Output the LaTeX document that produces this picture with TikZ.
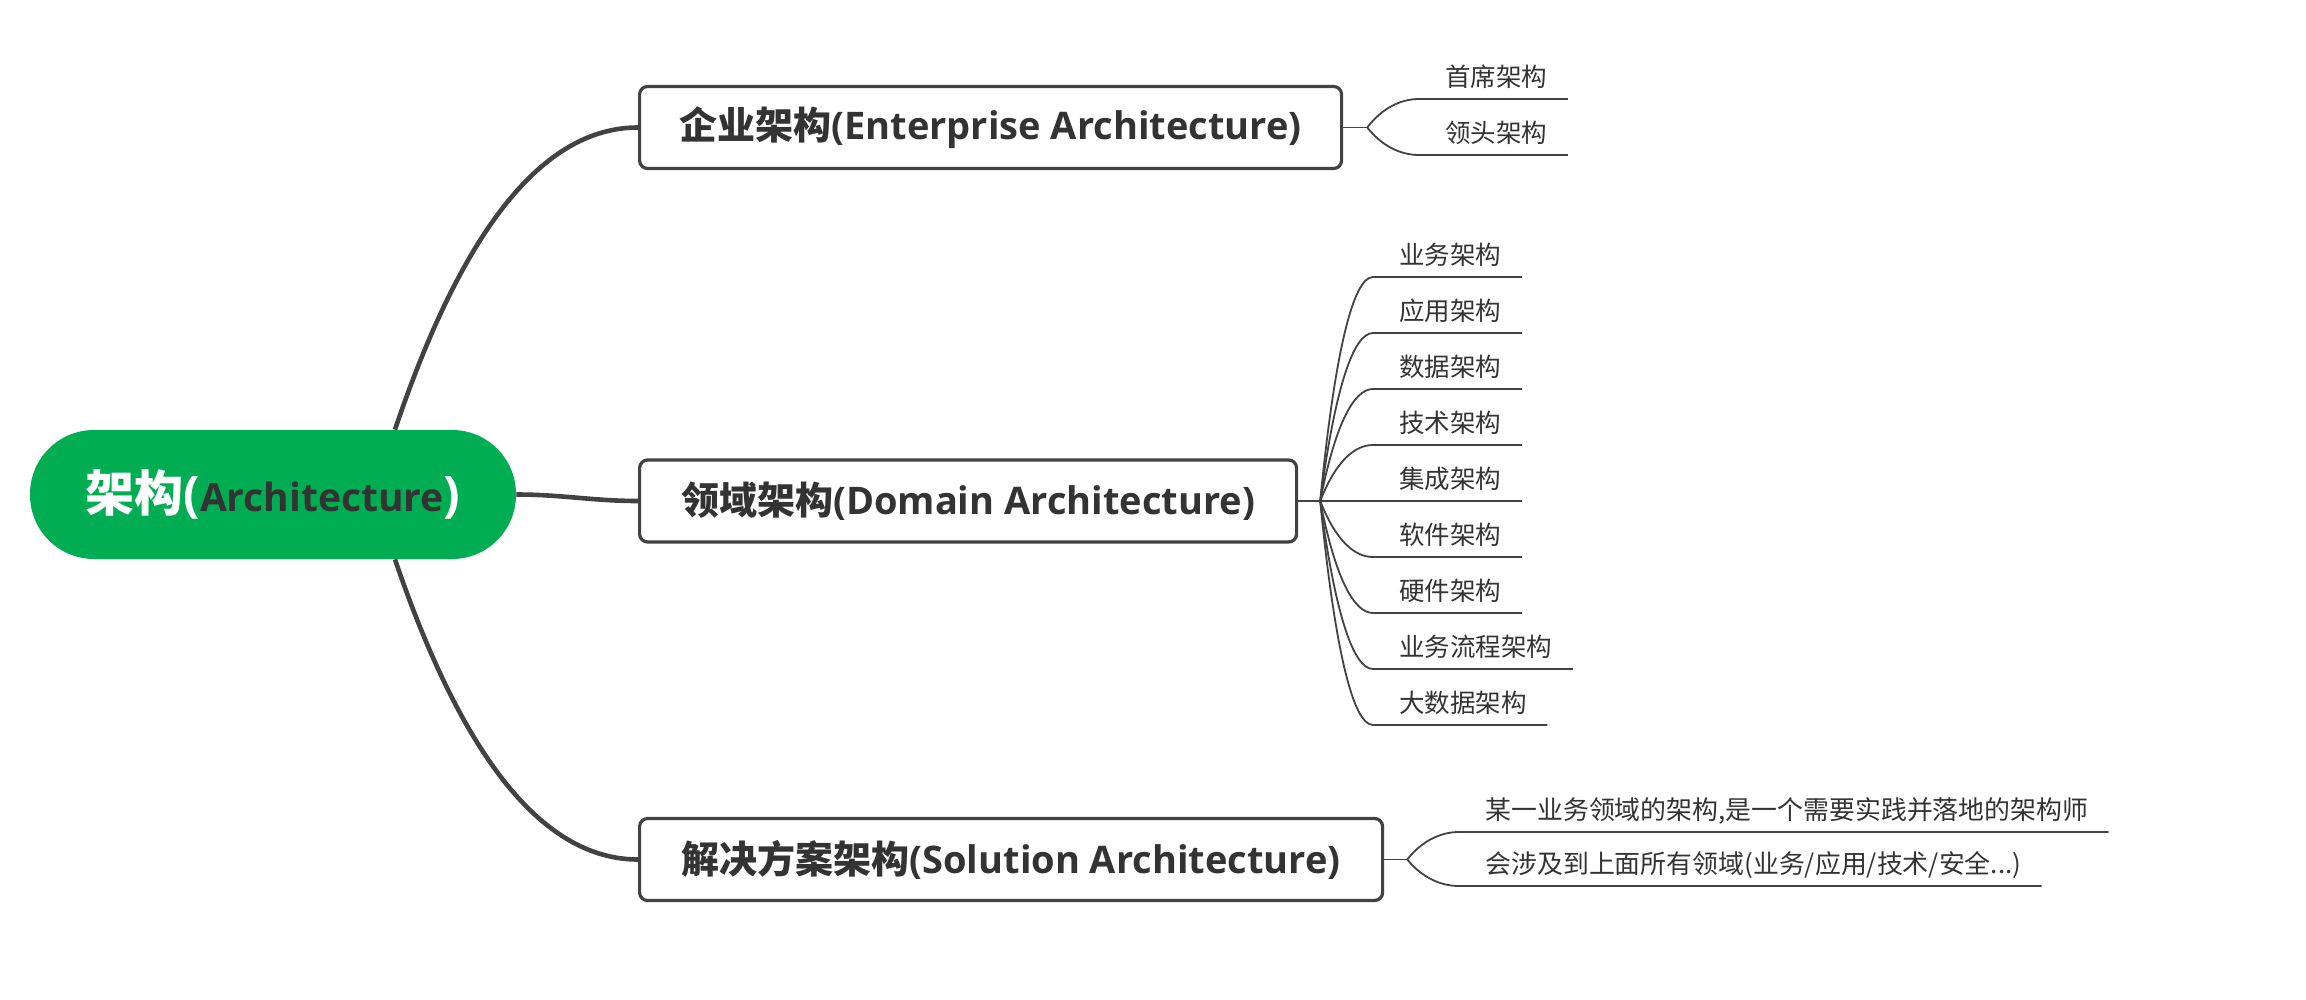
\documentclass[tikz,border=0pt]{standalone}
\usepackage{fontspec}
\setmainfont{Open Sans}
\newfontfamily\cjk{Noto Sans CJK SC}
\usetikzlibrary{calc}
\definecolor{rootgreen}{HTML}{00AD52}
\definecolor{linegray}{HTML}{424242}
\definecolor{textgray}{HTML}{333333}
\newcommand\leafconn[2]{\draw[leafline] let \p0=(#1), \p3=($(#2.south west)+(-26,0)$) in (\p0) .. controls ({\x0+7.3pt},{\y0+0.667*(\y3-\y0)}) and ({\x0+16.5pt},\y3) .. (\p3) -- ($(#2.south east)+(20,0)$);}
\begin{document}
\begin{tikzpicture}[x=0.5pt,y=-0.5pt,
  rootbox/.style={fill=rootgreen, rounded corners=32pt, minimum width=243pt, minimum height=64.5pt, inner sep=0pt, font=\bfseries},
  mainbox/.style={draw=linegray, line width=1.6pt, rounded corners=4pt, fill=white, minimum height=41pt, inner sep=0pt, font=\bfseries\fontsize{19}{22}\selectfont, text=textgray, anchor=west},
  branch/.style={draw=linegray, line width=2.3pt},
  leaf/.style={anchor=south west, inner sep=0pt, text depth=6pt, font=\cjk\fontsize{12.75}{15}\selectfont, text=textgray},
  leafline/.style={draw=linegray, line width=0.9pt},
]
\useasboundingbox (0,0) rectangle (2306,1000);

% root
\node[rootbox] (root) at (273,494.5) {{\cjk\fontsize{24.5}{28}\selectfont\color{white}架构}{\fontsize{24.5}{28}\selectfont\color{white}(}{\fontsize{19.5}{22}\selectfont\color{textgray}Architecture}{\fontsize{24.5}{28}\selectfont\color{white})}};

% main boxes
\node[mainbox, minimum width=351pt] (ent) at (638,127.5) {{\cjk 企业架构}(Enterprise Architecture)};
\node[mainbox, minimum width=328.5pt] (dom) at (638,501) {{\cjk 领域架构}(Domain Architecture)};
\node[mainbox, minimum width=371.5pt] (sol) at (638,859.5) {{\cjk 解决方案架构}(Solution Architecture)};

% branches
\draw[branch] ($(root.north)+(122,0)$) .. controls +(68,-202) and +(-94,0) .. (ent.west);
\draw[branch] (root.east) .. controls +(45,0) and +(-45,0) .. (dom.west);
\draw[branch] ($(root.south)+(122,0)$) .. controls +(68,200) and +(-94,0) .. (sol.west);

% fan points
\coordinate (fe) at ($(ent.east)+(24,0)$);
\coordinate (fd) at ($(dom.east)+(22,0)$);
\coordinate (fs) at ($(sol.east)+(23,0)$);
\draw[leafline] (ent.east) -- (fe);
\draw[leafline] (dom.east) -- (fd);
\draw[leafline] (sol.east) -- (fs);

% enterprise leaves
\node[leaf] (e1) at (1445,99) {首席架构};
\node[leaf] (e2) at (1445,155) {领头架构};
\leafconn{fe}{e1}
\leafconn{fe}{e2}

% domain leaves
\node[leaf] (d1) at (1399,277) {业务架构};
\node[leaf] (d2) at (1399,333) {应用架构};
\node[leaf] (d3) at (1399,389) {数据架构};
\node[leaf] (d4) at (1399,445) {技术架构};
\node[leaf] (d5) at (1399,501) {集成架构};
\node[leaf] (d6) at (1399,557) {软件架构};
\node[leaf] (d7) at (1399,613) {硬件架构};
\node[leaf] (d8) at (1399,669) {业务流程架构};
\node[leaf] (d9) at (1399,725) {大数据架构};
\foreach \dn in {d1,d2,d3,d4,d5,d6,d7,d8,d9}{\leafconn{fd}{\dn}}

% solution leaves
\node[leaf, font=\cjk\fontsize{12.95}{15}\selectfont] (s1) at (1485,832) {某一业务领域的架构,是一个需要实践并落地的架构师};
\node[leaf, font=\cjk\fontsize{12.95}{15}\selectfont] (s2) at (1485,886) {会涉及到上面所有领域(业务/应用/技术/安全...)};
\leafconn{fs}{s1}
\leafconn{fs}{s2}
\end{tikzpicture}
\end{document}
